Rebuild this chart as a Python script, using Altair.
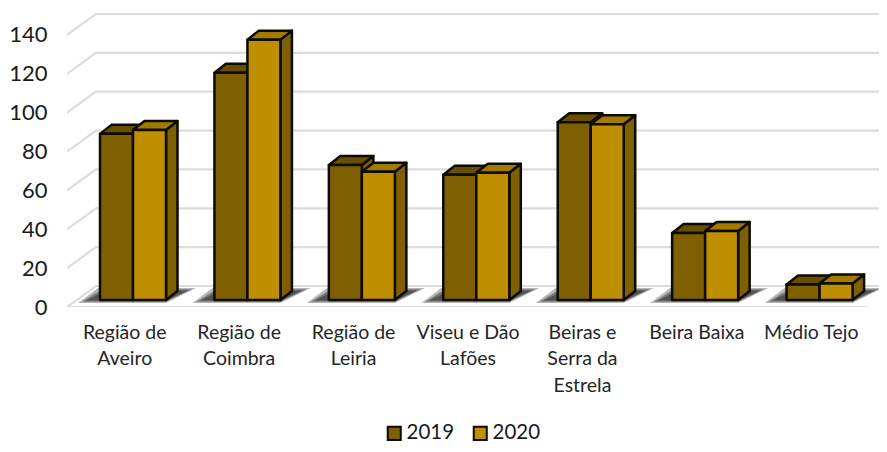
import altair as alt
import pandas as pd

categories = ["Região de|Aveiro", "Região de|Coimbra", "Região de|Leiria", "Viseu e Dão|Lafões",
              "Beiras e|Serra da|Estrela", "Beira Baixa", "Médio Tejo"]
series_names = ["2019", "2020"]
values_2019 = [85.5, 117, 69.5, 64.5, 91.5, 34.5, 8]
values_2020 = [87.5, 134, 66, 65.5, 90.5, 35.5, 8.5]
front_colors = ["#7f6000", "#bf8f00"]
top_colors = ["#665000", "#a37a00"]
side_color = "#7f6000"
ticks = [0, 20, 40, 60, 80, 100, 120, 140]

PX = 114.43            # pixels per category
UY = 1.943             # pixels per value unit
W, H = 812, 299
XMAX = W / PX
YMAX = H / UY
WALL_DX, WALL_DY = 29 / PX, 21 / UY
BAR_DX, BAR_DY = 11.5 / PX, 9 / UY
BAR_BASE = 7 / UY
BAR_X0, BAR_W = 33 / PX, 33 / PX


def para(pid, x0, x1, lo, hi, shift_dx):
    """Parallelogram with horizontal edges at lo and hi, top edge shifted right."""
    xs = [x0, x0 + shift_dx, x1, x1 + shift_dx]
    ys = [lo, hi, hi, hi]
    y2 = [lo, lo, lo, hi]
    return [dict(pid=pid, x=a, y=b, y2=c) for a, b, c in zip(xs, ys, y2)]


# grid
grid_rows = []
for t in ticks:
    grid_rows += [dict(level=t, x=0, y=t, k=0),
                  dict(level=t, x=WALL_DX, y=t + WALL_DY, k=1),
                  dict(level=t, x=XMAX, y=t + WALL_DY, k=2)]
grid_rows += [dict(level=-1, x=0, y=0, k=0), dict(level=-1, x=len(categories), y=0, k=1)]
grid = alt.Chart(pd.DataFrame(grid_rows)).mark_line(color="#dcdcdc", strokeWidth=2.2, clip=True).encode(
    x=alt.X("x:Q", scale=alt.Scale(domain=[0, XMAX], nice=False, zero=False),
            axis=alt.Axis(values=[i + 0.5 for i in range(len(categories))],
                          labelExpr="split(" + str(categories) + "[datum.value - 0.5], '|')",
                          title=None, domain=False, ticks=False, grid=False,
                          labelPadding=16, labelFontSize=19.5, labelFont="Lato", labelColor="#262626",
                          labelLineHeight=26.5, labelBaseline="top", labelAngle=0, labelOverlap=False,
                          labelFlush=False)),
    y=alt.Y("y:Q", scale=alt.Scale(domain=[0, YMAX], nice=False, zero=False),
            axis=alt.Axis(values=ticks, title=None, domain=False, ticks=False, grid=False,
                          labelPadding=20, labelFontSize=22, labelFont="Lato", labelColor="#1a1a1a")),
    detail="level:N",
    order="k:Q",
)

# floor shadows, three nested tones
shadow_rows = []
for i in range(len(categories)):
    left = i + BAR_X0
    right = left + 2 * BAR_W
    for j, (grow, o) in enumerate([(0, 0.35), (-4, 0.45), (-8, 0.55)]):
        lo = (4 - grow * 0.3) / UY
        hi = (19 + grow * 0.3) / UY
        pts = [dict(x=left + (-22 - grow) / PX, y=lo, y2=lo),
               dict(x=left + (-2 - grow) / PX, y=hi, y2=lo),
               dict(x=right, y=hi, y2=lo),
               dict(x=right + (30 + grow) / PX, y=hi, y2=hi)]
        for p in pts:
            p.update(pid=f"s{i}-{j}", op=o)
        shadow_rows += pts
shadow = alt.Chart(pd.DataFrame(shadow_rows)).mark_area(color="#303030", clip=True).encode(
    x="x:Q", y="y:Q", y2="y2:Q", detail="pid:N",
    opacity=alt.Opacity("op:Q", scale=None),
)

# top and side faces
poly_rows = []
front_rows = []
for s, vals in enumerate([values_2019, values_2020]):
    for i, v in enumerate(vals):
        x0 = i + BAR_X0 + s * BAR_W
        x1 = x0 + BAR_W
        top = v + BAR_BASE
        side = [dict(x=x1, y=top, y2=BAR_BASE),
                dict(x=x1 + BAR_DX, y=top + BAR_DY, y2=BAR_BASE + BAR_DY)]
        for p in side:
            p.update(pid=f"a{s}-{i}-1", fill=side_color, n=s * 100 + i * 2)
        poly_rows += side
        tp = para(f"a{s}-{i}-2", x0, x1, top, top + BAR_DY, BAR_DX)
        for p in tp:
            p.update(fill=top_colors[s], n=s * 100 + i * 2 + 1)
        poly_rows += tp
        front_rows.append(dict(series=series_names[s], x=x0, x2=x1, y=BAR_BASE, y2=top))

faces = alt.Chart(pd.DataFrame(poly_rows)).mark_area(
    stroke="#0d0a00", strokeWidth=2.5, strokeJoin="round", interpolate="linear"
).encode(
    x="x:Q", y="y:Q", y2="y2:Q",
    fill=alt.Fill("fill:N", scale=None),
    detail="pid:N",
)

fronts = alt.Chart(pd.DataFrame(front_rows)).mark_rect(
    stroke="#0d0a00", strokeWidth=2.5, strokeJoin="round"
).encode(
    x="x:Q", x2="x2:Q", y="y:Q", y2="y2:Q",
    color=alt.Color("series:N", scale=alt.Scale(domain=series_names, range=front_colors),
                    legend=alt.Legend(orient="none", legendX=317, legendY=415, direction="horizontal",
                                      title=None, symbolType="square", symbolSize=170,
                                      symbolStrokeColor="#0d0a00", symbolStrokeWidth=2,
                                      symbolOpacity=1, labelFont="Lato", labelFontSize=20.5,
                                      labelColor="#1a1a1a", labelOffset=2, columnPadding=14)),
)

chart = alt.layer(grid, shadow, faces, fronts).properties(
    width=W, height=H,
    autosize=alt.AutoSizeParams(type="none"),
    padding={"left": 59, "top": 0, "right": 0, "bottom": 137},
).configure_view(stroke=None).configure_axis(labelFontWeight="normal")

chart.save("out.html", embed_options={"renderer": "svg", "actions": False})
